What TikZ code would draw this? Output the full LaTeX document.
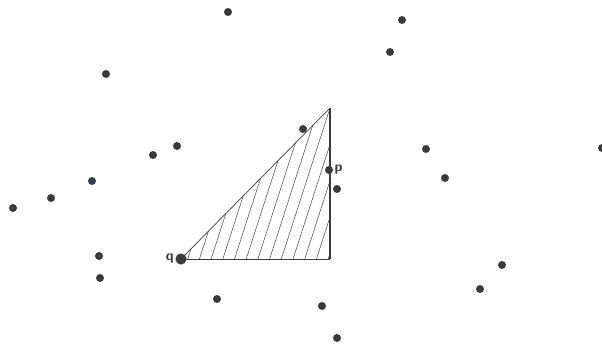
\documentclass[tikz,border=0pt]{standalone}
\usetikzlibrary{calc}
\definecolor{dotgray}{RGB}{58,58,58}
\definecolor{dotblue}{RGB}{52,58,84}

\begin{document}
\begin{tikzpicture}[x=0.03cm, y=-0.03cm,
  pt/.style={circle, fill=dotgray, inner sep=0pt, minimum size=6.8pt},
  bigpt/.style={pt, minimum size=9.5pt},
  lbl/.style={font=\sffamily\bfseries\large, text=dotgray, inner sep=1pt},
  hatch/.style={line width=0.4pt, dotgray},
  edge/.style={line width=0.6pt, dotgray}
]
\useasboundingbox (0,0) rectangle (602,345);

% triangle corners
\coordinate (apex) at (330,108);
\coordinate (corner) at (330,259);
\node[bigpt] (q) at (181,259) {};

% hatching
\begin{scope}
  \clip (q.center) -- (apex) -- (corner) -- cycle;
  \foreach \k in {0,...,12}
    \draw[hatch] ({187.3+11.7*\k-6},{259+20}) -- ({187.3+11.7*\k+0.325*170},{259-170});
\end{scope}

\draw[edge] (q.center) -- (apex);
\draw[edge, line width=0.8pt] (q.center) -- (corner);
\draw[dotgray, line width=2pt] (corner) -- (apex);

% scattered points
\foreach \x/\y [count=\i] in {228/12, 402/20, 390/52, 106/74, 303/129, 177/146,
    153/155, 51/198, 13/208, 426/149, 445/178, 337/189, 602/148, 99/256,
    100/278, 217/299, 322/306, 337/338, 502/265, 480/289}
  \node[pt] (d\i) at (\x,\y) {};
\node[pt, fill=dotblue] (b) at (92,181) {};

\node[pt] (p) at (329,170) {};
\node[lbl, anchor=west] (plbl) at (p.east) {p};
\node[lbl, anchor=east] (qlbl) at (q.west) {q};
\end{tikzpicture}
\end{document}
